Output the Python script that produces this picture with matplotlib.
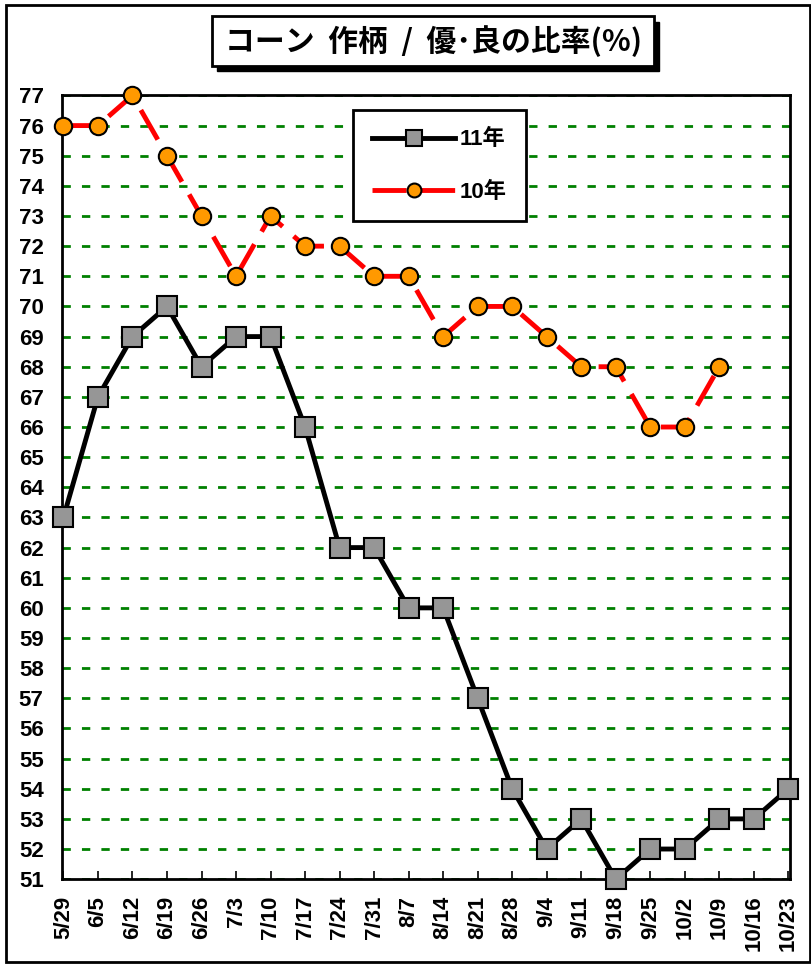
import matplotlib
matplotlib.use("Agg")
import matplotlib.pyplot as plt
from matplotlib.patches import Rectangle

plt.rcParams['font.family'] = ['Liberation Sans', 'Noto Sans CJK JP']
plt.rcParams['font.weight'] = 'bold'

# データ
dates = ['5/29', '6/5', '6/12', '6/19', '6/26', '7/3', '7/10', '7/17', '7/24', '7/31',
         '8/7', '8/14', '8/21', '8/28', '9/4', '9/11', '9/18', '9/25', '10/2', '10/9',
         '10/16', '10/23']
y11 = [63, 67, 69, 70, 68, 69, 69, 66, 62, 62, 60, 60, 57, 54, 52, 53, 51, 52, 52, 53, 53, 54]
y10 = [76, 76, 77, 75, 73, 71, 73, 72, 72, 71, 71, 69, 70, 70, 69, 68, 68, 66, 66, 68]

fig = plt.figure(figsize=(8.12, 9.64), dpi=100)
ax = fig.add_axes([0.076, 0.088, 0.897, 0.813])

x11 = list(range(len(y11)))
x10 = list(range(len(y10)))

ax.plot(x10, y10, color='red', lw=3.5, dashes=(7, 3), marker='o', ms=12.5,
        mfc='#ff9900', mec='black', mew=1.5, label='10年', zorder=3, clip_on=False)
ax.plot(x11, y11, color='black', lw=3.5, marker='s', ms=14,
        mfc='#969696', mec='black', mew=1.5, label='11年', zorder=4, clip_on=False)

ax.set_xlim(-0.05, len(dates) - 0.95)
ax.set_ylim(51, 77)
ax.set_yticks(range(51, 78))
ax.set_xticks(x11)
ax.set_xticklabels(dates, rotation=90, fontsize=16, fontweight='bold')
for lab in ax.get_yticklabels():
    lab.set_fontsize(16)
    lab.set_fontweight('bold')
ax.tick_params(axis='x', direction='in', length=6, width=1.2, pad=12)
ax.tick_params(axis='y', length=0, pad=13)
ax.yaxis.grid(True, color='green', ls=(0, (3, 4)), lw=2)
ax.set_axisbelow(True)
for s in ax.spines.values():
    s.set_linewidth(2)

h, l = ax.get_legend_handles_labels()
leg = ax.legend(h[::-1], l[::-1], loc='upper left', bbox_to_anchor=(0.40, 0.981),
                fontsize=16, frameon=True, fancybox=False, edgecolor='black',
                handlelength=3.75, borderpad=0.85, labelspacing=1.4, handletextpad=0.2,
                markerscale=0.8, borderaxespad=0)
leg.get_frame().set_linewidth(2)
leg.get_frame().set_alpha(1)

# タイトル枠
fig.patches.append(Rectangle((0.267, 0.926), 0.545, 0.051, transform=fig.transFigure,
                             facecolor='black', edgecolor='black'))
fig.patches.append(Rectangle((0.261, 0.932), 0.545, 0.051, transform=fig.transFigure,
                             facecolor='white', edgecolor='black', lw=2))
fig.text(0.5335, 0.9575, 'コーン  作柄  /  優･良の比率(%)', ha='center', va='center',
         fontsize=21.5, fontweight='bold', family=['Noto Sans CJK JP', 'DejaVu Sans'])

# 外枠
fig.patches.append(Rectangle((0.007, 0.002), 0.99, 0.993, transform=fig.transFigure,
                             facecolor='none', edgecolor='black', lw=2))

fig.savefig('out.png', dpi=100)
